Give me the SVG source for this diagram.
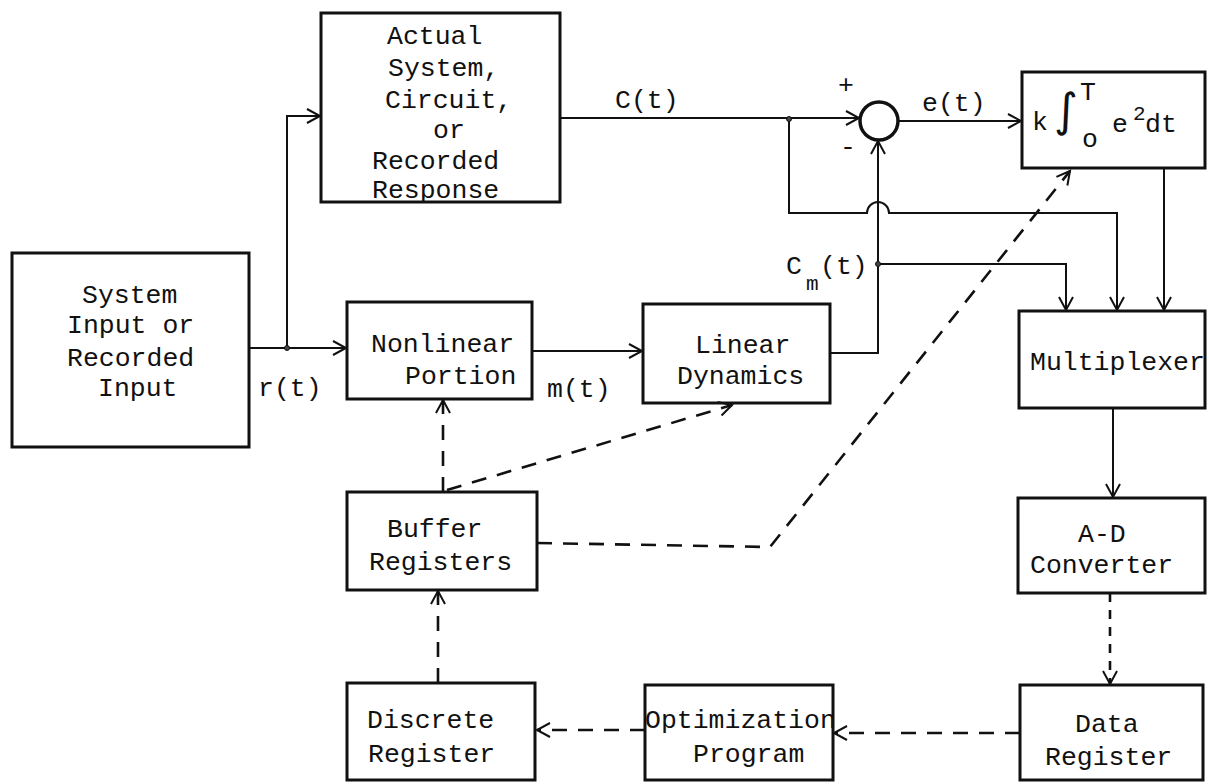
<svg xmlns="http://www.w3.org/2000/svg" width="1209" height="784" viewBox="0 0 1209 784">
<defs>
<style>
.bx{fill:none;stroke:#111;stroke-width:3}
.ln{fill:none;stroke:#111;stroke-width:2}
.dl{fill:none;stroke:#111;stroke-width:2.6;stroke-dasharray:15 11}
.ds{fill:none;stroke:#111;stroke-width:2.6;stroke-dasharray:9 8}
text{font-family:"Liberation Mono","Courier New",monospace;font-size:26.5px;fill:#111}
.sub{font-size:21px}
.int{font-family:"DejaVu Sans","Liberation Sans",sans-serif;font-size:46px}
.dot{fill:#444;stroke:#111;stroke-width:1}
</style>
<marker id="ar" markerUnits="userSpaceOnUse" markerWidth="20" markerHeight="20" viewBox="-2 -10 16 20" refX="13" refY="0" orient="auto">
<path d="M0,-7 L13,0 L0,7" fill="none" stroke="#111" stroke-width="2"/>
</marker>
</defs>

<g id="connectors">
<path class="ln" d="M249,348 H346" marker-end="url(#ar)"/>
<path class="ln" d="M287,348 V116 H320" marker-end="url(#ar)"/>
<path class="ln" d="M532,351 H642" marker-end="url(#ar)"/>
<path class="ln" d="M830,353 H878 V141" marker-end="url(#ar)"/>
<path class="ln" d="M560,118 H859" marker-end="url(#ar)"/>
<path class="ln" d="M898,121 H1021" marker-end="url(#ar)"/>
<path class="ln" d="M789,119 V213 H867 A11,11 0 0 1 889,213 H1117 V310" marker-end="url(#ar)"/>
<path class="ln" d="M878,264 H1066 V310" marker-end="url(#ar)"/>
<path class="ln" d="M1164,168 V310" marker-end="url(#ar)"/>
<path class="ln" d="M1113,408 V497" marker-end="url(#ar)"/>
<path class="ds" d="M1110,593 V684" marker-end="url(#ar)"/>
<path class="dl" d="M1020,733 H834" marker-end="url(#ar)"/>
<path class="dl" d="M645,730 H537" marker-end="url(#ar)"/>
<path class="dl" d="M438,683 V591" marker-end="url(#ar)"/>
<path class="dl" d="M443,492 V400" marker-end="url(#ar)"/>
<path class="dl" d="M447,490 L732,405" marker-end="url(#ar)"/>
<path class="dl" d="M537,543 L770,547 L1070,171" marker-end="url(#ar)"/>
<circle class="dot" cx="287" cy="348" r="2.5"/>
<circle class="dot" cx="789" cy="119" r="2.5"/>
<circle class="dot" cx="878" cy="264" r="2.5"/>
</g>

<g id="sum">
<circle cx="879" cy="121" r="19" fill="none" stroke="#111" stroke-width="3.5"/>
<text x="838" y="93">+</text>
<text x="840" y="155">-</text>
</g>

<g id="labels">
<text x="615" y="108">C(t)</text>
<text x="922" y="111">e(t)</text>
<text x="258" y="396">r(t)</text>
<text x="547" y="397">m(t)</text>
<text x="786" y="274">C</text>
<text class="sub" x="806" y="290">m</text>
<text x="820" y="274">(t)</text>
</g>

<g id="actual">
<rect class="bx" x="321" y="13" width="239" height="189"/>
<text x="387" y="44">Actual</text>
<text x="388" y="76">System,</text>
<text x="385" y="108">Circuit,</text>
<text x="433" y="138">or</text>
<text x="372" y="169">Recorded</text>
<text x="372" y="198">Response</text>
</g>

<g id="input">
<rect class="bx" x="12" y="253" width="237" height="194"/>
<text x="82" y="303">System</text>
<text x="67" y="333">Input or</text>
<text x="67" y="366">Recorded</text>
<text x="98" y="396">Input</text>
</g>

<g id="nonlinear">
<rect class="bx" x="347" y="302" width="185" height="97"/>
<text x="371" y="352">Nonlinear</text>
<text x="405" y="384">Portion</text>
</g>

<g id="linear">
<rect class="bx" x="643" y="304" width="187" height="99"/>
<text x="695" y="353">Linear</text>
<text x="677" y="384">Dynamics</text>
</g>

<g id="integral">
<rect class="bx" x="1022" y="72" width="183" height="96"/>
<text x="1032" y="130">k</text>
<text class="int" x="1054" y="126">∫</text>
<text x="1080" y="100">T</text>
<text x="1082" y="147">o</text>
<text x="1112" y="132">e</text>
<text class="sub" x="1133" y="120">2</text>
<text x="1145" y="132">dt</text>
</g>

<g id="multiplexer">
<rect class="bx" x="1019" y="311" width="186" height="97"/>
<text x="1030" y="370">Multiplexer</text>
</g>

<g id="adc">
<rect class="bx" x="1018" y="498" width="187" height="95"/>
<text x="1078" y="542">A-D</text>
<text x="1030" y="573">Converter</text>
</g>

<g id="data">
<rect class="bx" x="1020" y="685" width="183" height="95"/>
<text x="1075" y="732">Data</text>
<text x="1045" y="765">Register</text>
</g>

<g id="optimization">
<rect class="bx" x="645" y="685" width="188" height="95"/>
<text x="645" y="728">Optimization</text>
<text x="693" y="762">Program</text>
</g>

<g id="discrete">
<rect class="bx" x="347" y="683" width="188" height="97"/>
<text x="367" y="728">Discrete</text>
<text x="368" y="762">Register</text>
</g>

<g id="buffer">
<rect class="bx" x="347" y="492" width="190" height="98"/>
<text x="387" y="537">Buffer</text>
<text x="369" y="570">Registers</text>
</g>
</svg>
